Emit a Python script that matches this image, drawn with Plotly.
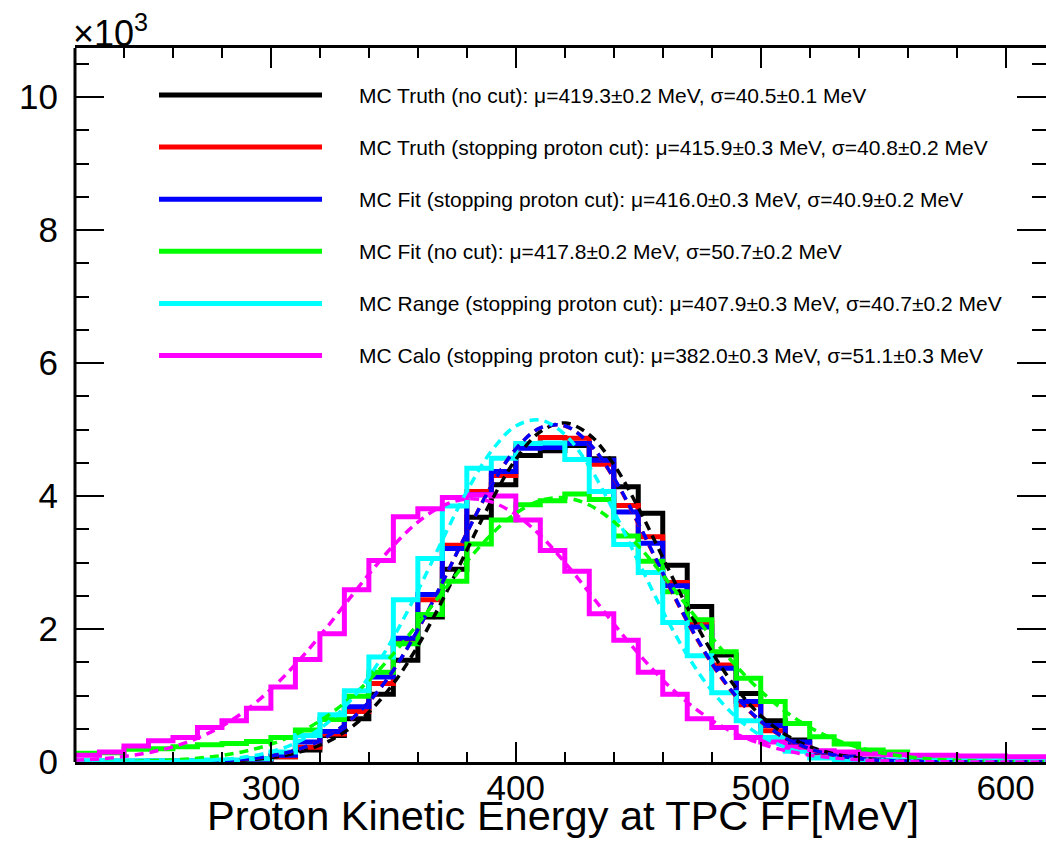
import plotly.graph_objects as go

# ---------------- data (counts in units of 10^3) ----------------
bin_low = [220, 230, 240, 250, 260, 270, 280, 290, 300, 310,
           320, 330, 340, 350, 360, 370, 380, 390, 400, 410,
           420, 430, 440, 450, 460, 470, 480, 490, 500, 510,
           520, 530, 540, 550, 560, 570, 580, 590, 600, 610]
bin_width = 10

h_truth_nocut = [0.01, 0.01, 0.01, 0.01, 0.01, 0.01, 0.02, 0.04, 0.08, 0.18,
                 0.40, 0.65, 1.02, 1.53, 2.18, 2.90, 3.68, 4.17, 4.61, 4.68,
                 4.76, 4.56, 4.14, 3.74, 2.96, 2.34, 1.61, 1.03, 0.62, 0.33,
                 0.14, 0.08, 0.04, 0.02, 0.01, 0.01, 0.0, 0.0, 0.0, 0.0]
h_truth_cut = [0.0, 0.0, 0.0, 0.01, 0.01, 0.01, 0.02, 0.03, 0.08, 0.22,
               0.42, 0.76, 1.18, 1.82, 2.44, 3.26, 4.07, 4.31, 4.76, 4.88,
               4.87, 4.48, 3.86, 3.39, 2.70, 2.10, 1.46, 0.86, 0.47, 0.28,
               0.14, 0.07, 0.03, 0.01, 0.0, 0.0, 0.0, 0.0, 0.0, 0.0]
h_fit_cut = [0.0, 0.0, 0.0, 0.01, 0.01, 0.01, 0.02, 0.04, 0.10, 0.30,
             0.46, 0.83, 1.28, 1.86, 2.52, 3.21, 4.02, 4.37, 4.72, 4.73,
             4.79, 4.54, 3.76, 3.29, 2.65, 2.03, 1.41, 0.91, 0.55, 0.30,
             0.15, 0.08, 0.03, 0.02, 0.01, 0.0, 0.0, 0.0, 0.0, 0.0]
h_fit_nocut = [0.13, 0.14, 0.19, 0.20, 0.23, 0.26, 0.28, 0.31, 0.37, 0.48,
               0.64, 0.99, 1.35, 1.78, 2.22, 2.72, 3.28, 3.64, 3.87, 3.93,
               4.03, 3.95, 3.40, 3.02, 2.56, 2.14, 1.66, 1.26, 0.91, 0.58,
               0.38, 0.27, 0.18, 0.15, 0.04, 0.03, 0.02, 0.02, 0.01, 0.01]
h_range_cut = [0.02, 0.02, 0.02, 0.02, 0.02, 0.03, 0.03, 0.05, 0.15, 0.40,
               0.71, 1.07, 1.58, 2.44, 3.06, 3.85, 4.42, 4.57, 4.79, 4.80,
               4.55, 4.07, 3.27, 2.85, 2.10, 1.60, 1.04, 0.62, 0.37, 0.16,
               0.06, 0.03, 0.03, 0.03, 0.02, 0.02, 0.02, 0.02, 0.02, 0.02]
h_calo_cut = [0.10, 0.15, 0.24, 0.32, 0.37, 0.52, 0.62, 0.81, 1.13, 1.54,
              1.93, 2.59, 3.03, 3.69, 3.81, 3.98, 4.02, 4.00, 3.64, 3.18,
              2.87, 2.23, 1.83, 1.35, 1.02, 0.65, 0.52, 0.37, 0.30, 0.22,
              0.17, 0.15, 0.12, 0.11, 0.10, 0.10, 0.09, 0.09, 0.08, 0.08]

# dashed Gaussian fit curves, read at 10 MeV steps
fit_x = [220, 230, 240, 250, 260, 270, 280, 290, 300, 310,
         320, 330, 340, 350, 360, 370, 380, 390, 400, 410,
         420, 430, 440, 450, 460, 470, 480, 490, 500, 510,
         520, 530, 540, 550, 560, 570, 580, 590, 600, 610, 620]
f_truth_nocut = [0.0, 0.0, 0.0, 0.001, 0.002, 0.006, 0.014, 0.031, 0.066, 0.134,
                 0.252, 0.449, 0.750, 1.180, 1.746, 2.431, 3.185, 3.926, 4.553, 4.967,
                 5.099, 4.925, 4.476, 3.826, 3.078, 2.329, 1.659, 1.111, 0.700, 0.415,
                 0.232, 0.122, 0.060, 0.028, 0.012, 0.005, 0.002, 0.001, 0.0, 0.0, 0.0]
f_truth_cut = [0.0, 0.0, 0.0, 0.001, 0.003, 0.008, 0.020, 0.043, 0.090, 0.175,
               0.321, 0.554, 0.901, 1.379, 1.987, 2.698, 3.449, 4.153, 4.709, 5.027,
               5.054, 4.786, 4.267, 3.582, 2.833, 2.109, 1.479, 0.976, 0.607, 0.356,
               0.196, 0.102, 0.050, 0.023, 0.010, 0.004, 0.002, 0.001, 0.0, 0.0, 0.0]
f_fit_cut = [0.0, 0.0, 0.0, 0.001, 0.004, 0.009, 0.020, 0.044, 0.091, 0.177,
             0.323, 0.557, 0.904, 1.381, 1.990, 2.699, 3.448, 4.150, 4.706, 5.026,
             5.056, 4.791, 4.277, 3.596, 2.848, 2.125, 1.493, 0.989, 0.616, 0.362,
             0.200, 0.104, 0.051, 0.024, 0.010, 0.004, 0.002, 0.001, 0.0, 0.0, 0.0]
f_fit_nocut = [0.002, 0.004, 0.008, 0.017, 0.031, 0.057, 0.099, 0.166, 0.268, 0.415,
               0.619, 0.888, 1.226, 1.627, 2.078, 2.552, 3.014, 3.424, 3.742, 3.933,
               3.976, 3.866, 3.616, 3.253, 2.815, 2.343, 1.875, 1.444, 1.069, 0.762,
               0.522, 0.344, 0.218, 0.133, 0.078, 0.044, 0.024, 0.012, 0.006, 0.003, 0.001]
f_range_cut = [0.0, 0.0, 0.001, 0.003, 0.007, 0.017, 0.037, 0.078, 0.153, 0.285,
               0.500, 0.824, 1.281, 1.872, 2.576, 3.338, 4.072, 4.675, 5.054, 5.143,
               4.928, 4.444, 3.773, 3.016, 2.270, 1.608, 1.073, 0.674, 0.398, 0.221,
               0.116, 0.057, 0.027, 0.012, 0.005, 0.002, 0.001, 0.0, 0.0, 0.0, 0.0]
f_calo_cut = [0.026, 0.047, 0.083, 0.141, 0.229, 0.358, 0.540, 0.783, 1.093, 1.468,
              1.897, 2.360, 2.825, 3.255, 3.609, 3.852, 3.957, 3.912, 3.722, 3.408,
              3.003, 2.547, 2.079, 1.634, 1.235, 0.899, 0.630, 0.424, 0.275, 0.172,
              0.103, 0.060, 0.033, 0.018, 0.009, 0.005, 0.002, 0.001, 0.0, 0.0, 0.0]

labels = [
    "MC Truth (no cut): \u03bc=419.3\u00b10.2 MeV, \u03c3=40.5\u00b10.1 MeV",
    "MC Truth (stopping proton cut): \u03bc=415.9\u00b10.3 MeV, \u03c3=40.8\u00b10.2 MeV",
    "MC Fit (stopping proton cut): \u03bc=416.0\u00b10.3 MeV, \u03c3=40.9\u00b10.2 MeV",
    "MC Fit (no cut): \u03bc=417.8\u00b10.2 MeV, \u03c3=50.7\u00b10.2 MeV",
    "MC Range (stopping proton cut): \u03bc=407.9\u00b10.3 MeV, \u03c3=40.7\u00b10.2 MeV",
    "MC Calo (stopping proton cut): \u03bc=382.0\u00b10.3 MeV, \u03c3=51.1\u00b10.3 MeV",
]
colors = ["#000000", "#ff0000", "#0000ff", "#00ff00", "#00ffff", "#ff00ff"]
hists = [h_truth_nocut, h_truth_cut, h_fit_cut, h_fit_nocut, h_range_cut, h_calo_cut]
fits = [f_truth_nocut, f_truth_cut, f_fit_cut, f_fit_nocut, f_range_cut, f_calo_cut]

x_title = "Proton Kinetic Energy at TPC FF[MeV]"

# ---------------- figure ----------------
FONT = "Liberation Sans, Arial, Helvetica, sans-serif"
W, H = 1046, 852
ML, MR, MT, MB = 75, 0, 48, 90

fig = go.Figure()
edges = bin_low + [bin_low[-1] + bin_width]
for vals, col in zip(hists, colors):
    fig.add_trace(go.Scatter(x=edges, y=vals + [vals[-1]], mode="lines",
                             line=dict(color=col, width=5, shape="hv"),
                             showlegend=False, hoverinfo="skip"))
for vals, col in zip(fits, colors):
    fig.add_trace(go.Scatter(x=fit_x, y=vals, mode="lines",
                             line=dict(color=col, width=3.5, dash="9px,6px", shape="spline"),
                             showlegend=False, hoverinfo="skip"))

# legend drawn as in the original (long line samples + text)
leg_top_px, leg_step_px = 95, 52.1
plot_h = H - MT - MB
plot_w = W - ML - MR
for i, (lab, col) in enumerate(zip(labels, colors)):
    py = leg_top_px + i * leg_step_px
    yp = (H - MB - py) / plot_h
    fig.add_shape(type="line", xref="paper", yref="paper",
                  x0=(159 - ML) / plot_w, x1=(322 - ML) / plot_w, y0=yp, y1=yp,
                  line=dict(color=col, width=5))
    fig.add_annotation(xref="paper", yref="paper", x=(357 - ML) / plot_w, y=yp,
                       xanchor="left", yanchor="middle", text=lab, showarrow=False,
                       font=dict(family=FONT, size=21, color="black"))

# left frame line (the right frame lies just outside the picture in the original)
fig.add_shape(type="line", xref="paper", yref="paper", x0=0, x1=0, y0=0, y1=1,
              line=dict(color="black", width=3))

# "x10^3" exponent label
fig.add_annotation(xref="paper", yref="paper", x=0, y=1, xanchor="left", yanchor="bottom",
                   text="\u00d710<sup>3</sup>", showarrow=False, yshift=-8, xshift=-4,
                   font=dict(family=FONT, size=36, color="black"))

# x-axis title placed as in the original
title_px = 815
fig.add_annotation(xref="paper", yref="paper", x=(563 - ML) / plot_w,
                   y=(H - MB - title_px) / plot_h, xanchor="center", yanchor="middle",
                   text=x_title, showarrow=False,
                   font=dict(family=FONT, size=41.5, color="black"))

fig.update_layout(
    width=W, height=H,
    margin=dict(l=ML, r=MR, t=MT, b=MB),
    plot_bgcolor="white", paper_bgcolor="white",
    font=dict(family=FONT, color="black"),
    showlegend=False,
)
fig.update_xaxes(
    range=[220, 616.5], showgrid=False, zeroline=False,
    showline=True, linewidth=3, linecolor="black", mirror="ticks",
    ticks="inside", ticklen=20, tickwidth=2, tickcolor="black",
    tick0=0, dtick=100,
    minor=dict(ticks="inside", ticklen=10, tickwidth=2, tickcolor="black", dtick=20, showgrid=False),
    tickfont=dict(family=FONT, size=35, color="black"),
    ticklabelstandoff=-7,
)
fig.update_yaxes(
    range=[0, 10.74], showgrid=False, zeroline=False,
    showline=False, mirror="ticks",
    ticks="inside", ticklen=29, tickwidth=2, tickcolor="black",
    tick0=0, dtick=2,
    minor=dict(ticks="inside", ticklen=14, tickwidth=2, tickcolor="black", dtick=0.5, showgrid=False),
    tickfont=dict(family=FONT, size=35, color="black"),
    ticklabelstandoff=16,
)

fig.write_html("out.html", config={"displayModeBar": False},
               post_script="document.body.style.margin='0';")
